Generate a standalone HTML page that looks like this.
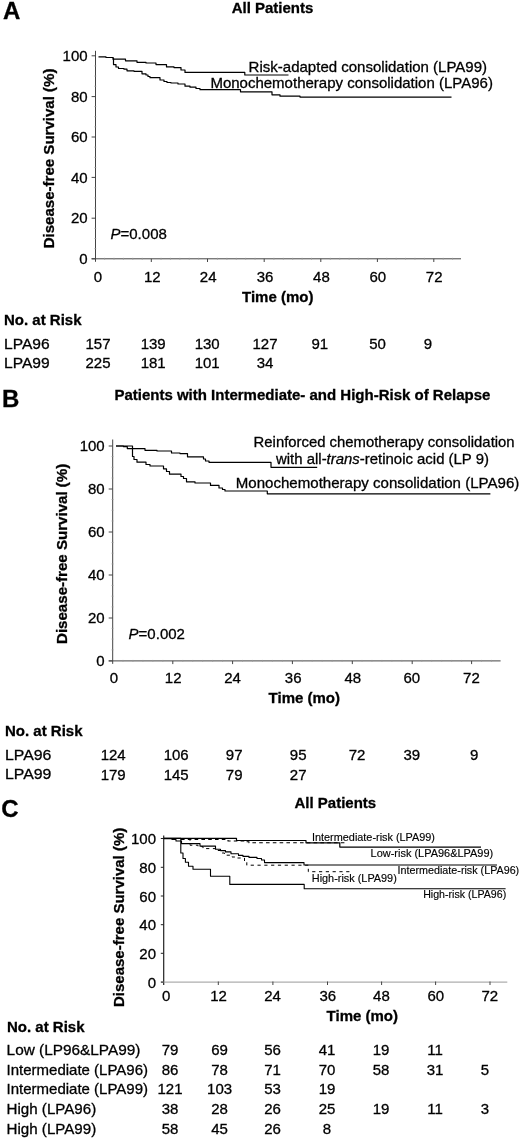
<!DOCTYPE html>
<html lang="en">
<head>
<meta charset="utf-8">
<title>Disease-free survival</title>
<style>
html,body{margin:0;padding:0;background:#fff;}
body{width:520px;height:1139px;overflow:hidden;}
svg{display:block;}
svg text{font-family:"Liberation Sans", sans-serif;fill:#000;stroke:#000;stroke-width:0.3px;}
</style>
</head>
<body>
<svg width="520" height="1139" viewBox="0 0 520 1139">
<rect width="520" height="1139" fill="#fff"/>
<text x="3.0" y="19.2" font-size="24" font-weight="bold">A</text>
<text x="272.5" y="12.5" font-size="15" font-weight="bold" text-anchor="middle">All Patients</text>
<line x1="95.5" y1="50.8" x2="95.5" y2="261.8" stroke="#444" stroke-width="1"/>
<line x1="91.6" y1="258.8" x2="461" y2="258.8" stroke="#444" stroke-width="1"/>
<line x1="91.6" y1="55.8" x2="95.5" y2="55.8" stroke="#444" stroke-width="1"/>
<line x1="91.6" y1="96.6" x2="95.5" y2="96.6" stroke="#444" stroke-width="1"/>
<line x1="91.6" y1="137.0" x2="95.5" y2="137.0" stroke="#444" stroke-width="1"/>
<line x1="91.6" y1="177.4" x2="95.5" y2="177.4" stroke="#444" stroke-width="1"/>
<line x1="91.6" y1="218.2" x2="95.5" y2="218.2" stroke="#444" stroke-width="1"/>
<line x1="91.6" y1="258.8" x2="95.5" y2="258.8" stroke="#444" stroke-width="1"/>
<line x1="151.3" y1="258.8" x2="151.3" y2="262.0" stroke="#444" stroke-width="1"/>
<line x1="207.5" y1="258.8" x2="207.5" y2="262.0" stroke="#444" stroke-width="1"/>
<line x1="264.2" y1="258.8" x2="264.2" y2="262.0" stroke="#444" stroke-width="1"/>
<line x1="320.8" y1="258.8" x2="320.8" y2="262.0" stroke="#444" stroke-width="1"/>
<line x1="377.4" y1="258.8" x2="377.4" y2="262.0" stroke="#444" stroke-width="1"/>
<line x1="433.8" y1="258.8" x2="433.8" y2="262.0" stroke="#444" stroke-width="1"/>
<line x1="94.3" y1="248.65" x2="96.3" y2="248.65" stroke="#999" stroke-width="0.7"/>
<line x1="94.3" y1="238.5" x2="96.3" y2="238.5" stroke="#999" stroke-width="0.7"/>
<line x1="94.3" y1="228.35000000000002" x2="96.3" y2="228.35000000000002" stroke="#999" stroke-width="0.7"/>
<line x1="94.3" y1="208.05" x2="96.3" y2="208.05" stroke="#999" stroke-width="0.7"/>
<line x1="94.3" y1="197.9" x2="96.3" y2="197.9" stroke="#999" stroke-width="0.7"/>
<line x1="94.3" y1="187.75" x2="96.3" y2="187.75" stroke="#999" stroke-width="0.7"/>
<line x1="94.3" y1="167.45" x2="96.3" y2="167.45" stroke="#999" stroke-width="0.7"/>
<line x1="94.3" y1="157.3" x2="96.3" y2="157.3" stroke="#999" stroke-width="0.7"/>
<line x1="94.3" y1="147.15" x2="96.3" y2="147.15" stroke="#999" stroke-width="0.7"/>
<line x1="94.3" y1="126.85" x2="96.3" y2="126.85" stroke="#999" stroke-width="0.7"/>
<line x1="94.3" y1="116.70000000000002" x2="96.3" y2="116.70000000000002" stroke="#999" stroke-width="0.7"/>
<line x1="94.3" y1="106.55000000000001" x2="96.3" y2="106.55000000000001" stroke="#999" stroke-width="0.7"/>
<line x1="94.3" y1="86.25" x2="96.3" y2="86.25" stroke="#999" stroke-width="0.7"/>
<line x1="94.3" y1="76.1" x2="96.3" y2="76.1" stroke="#999" stroke-width="0.7"/>
<line x1="94.3" y1="65.95000000000002" x2="96.3" y2="65.95000000000002" stroke="#999" stroke-width="0.7"/>
<line x1="104.605" y1="257.8" x2="104.605" y2="259.8" stroke="#999" stroke-width="0.7"/>
<line x1="114.01" y1="257.8" x2="114.01" y2="259.8" stroke="#999" stroke-width="0.7"/>
<line x1="123.41499999999999" y1="257.8" x2="123.41499999999999" y2="259.8" stroke="#999" stroke-width="0.7"/>
<line x1="132.82" y1="257.8" x2="132.82" y2="259.8" stroke="#999" stroke-width="0.7"/>
<line x1="142.225" y1="257.8" x2="142.225" y2="259.8" stroke="#999" stroke-width="0.7"/>
<line x1="161.035" y1="257.8" x2="161.035" y2="259.8" stroke="#999" stroke-width="0.7"/>
<line x1="170.44" y1="257.8" x2="170.44" y2="259.8" stroke="#999" stroke-width="0.7"/>
<line x1="179.845" y1="257.8" x2="179.845" y2="259.8" stroke="#999" stroke-width="0.7"/>
<line x1="189.25" y1="257.8" x2="189.25" y2="259.8" stroke="#999" stroke-width="0.7"/>
<line x1="198.655" y1="257.8" x2="198.655" y2="259.8" stroke="#999" stroke-width="0.7"/>
<line x1="217.46499999999997" y1="257.8" x2="217.46499999999997" y2="259.8" stroke="#999" stroke-width="0.7"/>
<line x1="226.87" y1="257.8" x2="226.87" y2="259.8" stroke="#999" stroke-width="0.7"/>
<line x1="236.27499999999998" y1="257.8" x2="236.27499999999998" y2="259.8" stroke="#999" stroke-width="0.7"/>
<line x1="245.68" y1="257.8" x2="245.68" y2="259.8" stroke="#999" stroke-width="0.7"/>
<line x1="255.08499999999998" y1="257.8" x2="255.08499999999998" y2="259.8" stroke="#999" stroke-width="0.7"/>
<line x1="273.895" y1="257.8" x2="273.895" y2="259.8" stroke="#999" stroke-width="0.7"/>
<line x1="283.3" y1="257.8" x2="283.3" y2="259.8" stroke="#999" stroke-width="0.7"/>
<line x1="292.705" y1="257.8" x2="292.705" y2="259.8" stroke="#999" stroke-width="0.7"/>
<line x1="302.11" y1="257.8" x2="302.11" y2="259.8" stroke="#999" stroke-width="0.7"/>
<line x1="311.515" y1="257.8" x2="311.515" y2="259.8" stroke="#999" stroke-width="0.7"/>
<line x1="330.325" y1="257.8" x2="330.325" y2="259.8" stroke="#999" stroke-width="0.7"/>
<line x1="339.72999999999996" y1="257.8" x2="339.72999999999996" y2="259.8" stroke="#999" stroke-width="0.7"/>
<line x1="349.135" y1="257.8" x2="349.135" y2="259.8" stroke="#999" stroke-width="0.7"/>
<line x1="358.53999999999996" y1="257.8" x2="358.53999999999996" y2="259.8" stroke="#999" stroke-width="0.7"/>
<line x1="367.945" y1="257.8" x2="367.945" y2="259.8" stroke="#999" stroke-width="0.7"/>
<line x1="386.755" y1="257.8" x2="386.755" y2="259.8" stroke="#999" stroke-width="0.7"/>
<line x1="396.15999999999997" y1="257.8" x2="396.15999999999997" y2="259.8" stroke="#999" stroke-width="0.7"/>
<line x1="405.56499999999994" y1="257.8" x2="405.56499999999994" y2="259.8" stroke="#999" stroke-width="0.7"/>
<line x1="414.96999999999997" y1="257.8" x2="414.96999999999997" y2="259.8" stroke="#999" stroke-width="0.7"/>
<line x1="424.37499999999994" y1="257.8" x2="424.37499999999994" y2="259.8" stroke="#999" stroke-width="0.7"/>
<line x1="443.18499999999995" y1="257.8" x2="443.18499999999995" y2="259.8" stroke="#999" stroke-width="0.7"/>
<line x1="452.59" y1="257.8" x2="452.59" y2="259.8" stroke="#999" stroke-width="0.7"/>
<text x="87.6" y="60.9" font-size="15" text-anchor="end">100</text>
<text x="87.6" y="101.69999999999999" font-size="15" text-anchor="end">80</text>
<text x="87.6" y="142.1" font-size="15" text-anchor="end">60</text>
<text x="87.6" y="182.5" font-size="15" text-anchor="end">40</text>
<text x="87.6" y="223.29999999999998" font-size="15" text-anchor="end">20</text>
<text x="87.6" y="263.90000000000003" font-size="15" text-anchor="end">0</text>
<text x="97.8" y="281.8" font-size="15" text-anchor="middle">0</text>
<text x="152.3" y="281.8" font-size="15" text-anchor="middle">12</text>
<text x="208.2" y="281.8" font-size="15" text-anchor="middle">24</text>
<text x="265" y="281.8" font-size="15" text-anchor="middle">36</text>
<text x="321.4" y="281.8" font-size="15" text-anchor="middle">48</text>
<text x="377.8" y="281.8" font-size="15" text-anchor="middle">60</text>
<text x="434.2" y="281.8" font-size="15" text-anchor="middle">72</text>
<text x="242" y="302" font-size="15" font-weight="bold">Time (mo)</text>
<text transform="translate(54.3,248.3) rotate(-90)" font-size="15" font-weight="bold" textLength="179.8" lengthAdjust="spacingAndGlyphs">Disease-free Survival (%)</text>
<text x="110.5" y="239" font-size="15"><tspan font-style="italic">P</tspan>=0.008</text>
<path d="M98.5 56.9H106V57.5H113V59.2H125.5V60.8H137V62.3H146V63H156V64.6H166.5V66.9H174V67.6H181V70H185V72.4H244.8V75.0H288.5" fill="none" stroke="#000" stroke-width="1.2" stroke-linejoin="round"/>
<path d="M113 58.2H113.5V64.6H116V67H118.5V68.5H124V69.2H127V70.8H134V71.3H142V73.8H146V75H148V76.5H150V77.7H160V80H164V81.5H167V82.5H171V83H178V84H185V86.2H190V87.2H196V88.5H200V89.7H240.5V91.8H272V94.8H280V96.2H300V97.1H451.5" fill="none" stroke="#000" stroke-width="1.2" stroke-linejoin="round"/>
<text x="248.6" y="72" font-size="15" textLength="238.5" lengthAdjust="spacingAndGlyphs">Risk-adapted consolidation (LPA99)</text>
<text x="210.4" y="87.9" font-size="15" textLength="282.5" lengthAdjust="spacingAndGlyphs">Monochemotherapy consolidation (LPA96)</text>
<text x="4" y="325" font-size="15" font-weight="bold">No. at Risk</text>
<text x="4" y="348.8" font-size="15" textLength="45.6" lengthAdjust="spacingAndGlyphs">LPA96</text>
<text x="4" y="367.6" font-size="15" textLength="45.6" lengthAdjust="spacingAndGlyphs">LPA99</text>
<text x="98" y="348.8" font-size="15" text-anchor="middle">157</text>
<text x="153.2" y="348.8" font-size="15" text-anchor="middle">139</text>
<text x="207.2" y="348.8" font-size="15" text-anchor="middle">130</text>
<text x="265" y="348.8" font-size="15" text-anchor="middle">127</text>
<text x="319.8" y="348.8" font-size="15" text-anchor="middle">91</text>
<text x="377.6" y="348.8" font-size="15" text-anchor="middle">50</text>
<text x="428" y="348.8" font-size="15" text-anchor="middle">9</text>
<text x="98" y="367.6" font-size="15" text-anchor="middle">225</text>
<text x="153.2" y="367.6" font-size="15" text-anchor="middle">181</text>
<text x="207.2" y="367.6" font-size="15" text-anchor="middle">101</text>
<text x="265" y="367.6" font-size="15" text-anchor="middle">34</text>
<text x="2.0" y="406.7" font-size="24" font-weight="bold">B</text>
<text x="114.4" y="400.4" font-size="15" font-weight="bold" textLength="376" lengthAdjust="spacingAndGlyphs">Patients with Intermediate- and High-Risk of Relapse</text>
<line x1="112.7" y1="439.5" x2="112.7" y2="663.9" stroke="#444" stroke-width="1"/>
<line x1="108.7" y1="660.9" x2="500.6" y2="660.9" stroke="#444" stroke-width="1"/>
<line x1="108.7" y1="446.0" x2="112.7" y2="446.0" stroke="#444" stroke-width="1"/>
<line x1="108.7" y1="489.0" x2="112.7" y2="489.0" stroke="#444" stroke-width="1"/>
<line x1="108.7" y1="532.0" x2="112.7" y2="532.0" stroke="#444" stroke-width="1"/>
<line x1="108.7" y1="575.0" x2="112.7" y2="575.0" stroke="#444" stroke-width="1"/>
<line x1="108.7" y1="618.0" x2="112.7" y2="618.0" stroke="#444" stroke-width="1"/>
<line x1="108.7" y1="660.9" x2="112.7" y2="660.9" stroke="#444" stroke-width="1"/>
<line x1="172.8" y1="660.9" x2="172.8" y2="664.1" stroke="#444" stroke-width="1"/>
<line x1="232.6" y1="660.9" x2="232.6" y2="664.1" stroke="#444" stroke-width="1"/>
<line x1="292.4" y1="660.9" x2="292.4" y2="664.1" stroke="#444" stroke-width="1"/>
<line x1="352.3" y1="660.9" x2="352.3" y2="664.1" stroke="#444" stroke-width="1"/>
<line x1="412.2" y1="660.9" x2="412.2" y2="664.1" stroke="#444" stroke-width="1"/>
<line x1="471.6" y1="660.9" x2="471.6" y2="664.1" stroke="#444" stroke-width="1"/>
<line x1="111.5" y1="649.86" x2="113.5" y2="649.86" stroke="#999" stroke-width="0.7"/>
<line x1="111.5" y1="639.12" x2="113.5" y2="639.12" stroke="#999" stroke-width="0.7"/>
<line x1="111.5" y1="628.38" x2="113.5" y2="628.38" stroke="#999" stroke-width="0.7"/>
<line x1="111.5" y1="606.9" x2="113.5" y2="606.9" stroke="#999" stroke-width="0.7"/>
<line x1="111.5" y1="596.1600000000001" x2="113.5" y2="596.1600000000001" stroke="#999" stroke-width="0.7"/>
<line x1="111.5" y1="585.4200000000001" x2="113.5" y2="585.4200000000001" stroke="#999" stroke-width="0.7"/>
<line x1="111.5" y1="563.94" x2="113.5" y2="563.94" stroke="#999" stroke-width="0.7"/>
<line x1="111.5" y1="553.2" x2="113.5" y2="553.2" stroke="#999" stroke-width="0.7"/>
<line x1="111.5" y1="542.46" x2="113.5" y2="542.46" stroke="#999" stroke-width="0.7"/>
<line x1="111.5" y1="520.98" x2="113.5" y2="520.98" stroke="#999" stroke-width="0.7"/>
<line x1="111.5" y1="510.24" x2="113.5" y2="510.24" stroke="#999" stroke-width="0.7"/>
<line x1="111.5" y1="499.5" x2="113.5" y2="499.5" stroke="#999" stroke-width="0.7"/>
<line x1="111.5" y1="478.02" x2="113.5" y2="478.02" stroke="#999" stroke-width="0.7"/>
<line x1="111.5" y1="467.28000000000003" x2="113.5" y2="467.28000000000003" stroke="#999" stroke-width="0.7"/>
<line x1="111.5" y1="456.54" x2="113.5" y2="456.54" stroke="#999" stroke-width="0.7"/>
<line x1="122.96166666666667" y1="659.9" x2="122.96166666666667" y2="661.9" stroke="#999" stroke-width="0.7"/>
<line x1="132.92333333333335" y1="659.9" x2="132.92333333333335" y2="661.9" stroke="#999" stroke-width="0.7"/>
<line x1="142.885" y1="659.9" x2="142.885" y2="661.9" stroke="#999" stroke-width="0.7"/>
<line x1="152.84666666666666" y1="659.9" x2="152.84666666666666" y2="661.9" stroke="#999" stroke-width="0.7"/>
<line x1="162.80833333333334" y1="659.9" x2="162.80833333333334" y2="661.9" stroke="#999" stroke-width="0.7"/>
<line x1="182.73166666666668" y1="659.9" x2="182.73166666666668" y2="661.9" stroke="#999" stroke-width="0.7"/>
<line x1="192.69333333333333" y1="659.9" x2="192.69333333333333" y2="661.9" stroke="#999" stroke-width="0.7"/>
<line x1="202.65500000000003" y1="659.9" x2="202.65500000000003" y2="661.9" stroke="#999" stroke-width="0.7"/>
<line x1="212.61666666666667" y1="659.9" x2="212.61666666666667" y2="661.9" stroke="#999" stroke-width="0.7"/>
<line x1="222.57833333333335" y1="659.9" x2="222.57833333333335" y2="661.9" stroke="#999" stroke-width="0.7"/>
<line x1="242.5016666666667" y1="659.9" x2="242.5016666666667" y2="661.9" stroke="#999" stroke-width="0.7"/>
<line x1="252.46333333333334" y1="659.9" x2="252.46333333333334" y2="661.9" stroke="#999" stroke-width="0.7"/>
<line x1="262.425" y1="659.9" x2="262.425" y2="661.9" stroke="#999" stroke-width="0.7"/>
<line x1="272.38666666666666" y1="659.9" x2="272.38666666666666" y2="661.9" stroke="#999" stroke-width="0.7"/>
<line x1="282.34833333333336" y1="659.9" x2="282.34833333333336" y2="661.9" stroke="#999" stroke-width="0.7"/>
<line x1="302.27166666666665" y1="659.9" x2="302.27166666666665" y2="661.9" stroke="#999" stroke-width="0.7"/>
<line x1="312.23333333333335" y1="659.9" x2="312.23333333333335" y2="661.9" stroke="#999" stroke-width="0.7"/>
<line x1="322.19500000000005" y1="659.9" x2="322.19500000000005" y2="661.9" stroke="#999" stroke-width="0.7"/>
<line x1="332.1566666666667" y1="659.9" x2="332.1566666666667" y2="661.9" stroke="#999" stroke-width="0.7"/>
<line x1="342.11833333333334" y1="659.9" x2="342.11833333333334" y2="661.9" stroke="#999" stroke-width="0.7"/>
<line x1="362.0416666666667" y1="659.9" x2="362.0416666666667" y2="661.9" stroke="#999" stroke-width="0.7"/>
<line x1="372.0033333333334" y1="659.9" x2="372.0033333333334" y2="661.9" stroke="#999" stroke-width="0.7"/>
<line x1="381.96500000000003" y1="659.9" x2="381.96500000000003" y2="661.9" stroke="#999" stroke-width="0.7"/>
<line x1="391.9266666666667" y1="659.9" x2="391.9266666666667" y2="661.9" stroke="#999" stroke-width="0.7"/>
<line x1="401.8883333333334" y1="659.9" x2="401.8883333333334" y2="661.9" stroke="#999" stroke-width="0.7"/>
<line x1="421.8116666666667" y1="659.9" x2="421.8116666666667" y2="661.9" stroke="#999" stroke-width="0.7"/>
<line x1="431.77333333333337" y1="659.9" x2="431.77333333333337" y2="661.9" stroke="#999" stroke-width="0.7"/>
<line x1="441.735" y1="659.9" x2="441.735" y2="661.9" stroke="#999" stroke-width="0.7"/>
<line x1="451.6966666666667" y1="659.9" x2="451.6966666666667" y2="661.9" stroke="#999" stroke-width="0.7"/>
<line x1="461.65833333333336" y1="659.9" x2="461.65833333333336" y2="661.9" stroke="#999" stroke-width="0.7"/>
<line x1="481.5816666666667" y1="659.9" x2="481.5816666666667" y2="661.9" stroke="#999" stroke-width="0.7"/>
<line x1="491.54333333333335" y1="659.9" x2="491.54333333333335" y2="661.9" stroke="#999" stroke-width="0.7"/>
<text x="104.7" y="451.1" font-size="15" text-anchor="end">100</text>
<text x="104.7" y="494.1" font-size="15" text-anchor="end">80</text>
<text x="104.7" y="537.1" font-size="15" text-anchor="end">60</text>
<text x="104.7" y="580.1" font-size="15" text-anchor="end">40</text>
<text x="104.7" y="623.1" font-size="15" text-anchor="end">20</text>
<text x="104.7" y="666.0" font-size="15" text-anchor="end">0</text>
<text x="113.8" y="682.6" font-size="15" text-anchor="middle">0</text>
<text x="173.2" y="682.6" font-size="15" text-anchor="middle">12</text>
<text x="232.6" y="682.6" font-size="15" text-anchor="middle">24</text>
<text x="293.2" y="682.6" font-size="15" text-anchor="middle">36</text>
<text x="352.8" y="682.6" font-size="15" text-anchor="middle">48</text>
<text x="411.8" y="682.6" font-size="15" text-anchor="middle">60</text>
<text x="471.4" y="682.6" font-size="15" text-anchor="middle">72</text>
<text x="268.6" y="702.6" font-size="15" font-weight="bold">Time (mo)</text>
<text transform="translate(67.3,644.0) rotate(-90)" font-size="15" font-weight="bold" textLength="180.3" lengthAdjust="spacingAndGlyphs">Disease-free Survival (%)</text>
<text x="128.6" y="638.6" font-size="15"><tspan font-style="italic">P</tspan>=0.002</text>
<path d="M116 446H123.4V446.6H127.3V448.6H145V450.3H157V451H171.5V453H180V453.6H187.5V456.8H203.5V459H205.5V461H209V462.3H271V467.3H317.2" fill="none" stroke="#000" stroke-width="1.2" stroke-linejoin="round"/>
<path d="M116 446H132.5V456.5H134V459.5H137V462.2H146V464.5H150V466H163.5V468.8H166.5V471.5H169.5V474.2H181V476.5H183.5V478.5H186.5V481.8H195V483H210.5V485.4H219V488H222.5V489.5H225V491H267.3V493.8H490.4" fill="none" stroke="#000" stroke-width="1.2" stroke-linejoin="round"/>
<text x="253.6" y="446.5" font-size="15" textLength="261" lengthAdjust="spacingAndGlyphs">Reinforced chemotherapy consolidation</text>
<text x="276" y="463.5" font-size="15" textLength="213" lengthAdjust="spacingAndGlyphs">with all-<tspan font-style="italic">trans</tspan>-retinoic acid (LP 9)</text>
<text x="235.8" y="488.0" font-size="15" textLength="283.5" lengthAdjust="spacingAndGlyphs">Monochemotherapy consolidation (LPA96)</text>
<text x="5" y="735.6" font-size="15" font-weight="bold">No. at Risk</text>
<text x="5" y="760" font-size="15" textLength="46.4" lengthAdjust="spacingAndGlyphs">LPA96</text>
<text x="5" y="779.2" font-size="15" textLength="46.4" lengthAdjust="spacingAndGlyphs">LPA99</text>
<text x="113.2" y="760" font-size="15" text-anchor="middle">124</text>
<text x="176.2" y="760" font-size="15" text-anchor="middle">106</text>
<text x="234.2" y="760" font-size="15" text-anchor="middle">97</text>
<text x="298.2" y="760" font-size="15" text-anchor="middle">95</text>
<text x="357" y="760" font-size="15" text-anchor="middle">72</text>
<text x="411.8" y="760" font-size="15" text-anchor="middle">39</text>
<text x="474.2" y="760" font-size="15" text-anchor="middle">9</text>
<text x="113.2" y="779.6" font-size="15" text-anchor="middle">179</text>
<text x="176.2" y="779.6" font-size="15" text-anchor="middle">145</text>
<text x="234.2" y="779.6" font-size="15" text-anchor="middle">79</text>
<text x="298.2" y="779.6" font-size="15" text-anchor="middle">27</text>
<text x="1.2" y="816.9" font-size="24" font-weight="bold">C</text>
<text x="335.3" y="808.0" font-size="15" font-weight="bold" text-anchor="middle">All Patients</text>
<line x1="163.7" y1="835.4" x2="163.7" y2="985" stroke="#222" stroke-width="1.2"/>
<line x1="161" y1="982.1" x2="507.3" y2="982.1" stroke="#999" stroke-width="1"/>
<line x1="160.8" y1="838.5" x2="163.6" y2="838.5" stroke="#222" stroke-width="1"/>
<line x1="160.8" y1="867.3" x2="163.6" y2="867.3" stroke="#222" stroke-width="1"/>
<line x1="160.8" y1="896.0" x2="163.6" y2="896.0" stroke="#222" stroke-width="1"/>
<line x1="160.8" y1="924.7" x2="163.6" y2="924.7" stroke="#222" stroke-width="1"/>
<line x1="160.8" y1="953.3" x2="163.6" y2="953.3" stroke="#222" stroke-width="1"/>
<line x1="160.8" y1="982.1" x2="163.6" y2="982.1" stroke="#222" stroke-width="1"/>
<line x1="218.3" y1="981.5" x2="218.3" y2="985" stroke="#444" stroke-width="1"/>
<line x1="272.9" y1="981.5" x2="272.9" y2="985" stroke="#444" stroke-width="1"/>
<line x1="327.5" y1="981.5" x2="327.5" y2="985" stroke="#444" stroke-width="1"/>
<line x1="381.6" y1="981.5" x2="381.6" y2="985" stroke="#444" stroke-width="1"/>
<line x1="435.6" y1="981.5" x2="435.6" y2="985" stroke="#444" stroke-width="1"/>
<line x1="490" y1="981.5" x2="490" y2="985" stroke="#444" stroke-width="1"/>
<text x="156.0" y="844.2" font-size="15" text-anchor="end">100</text>
<text x="156.0" y="873.0" font-size="15" text-anchor="end">80</text>
<text x="156.0" y="901.7" font-size="15" text-anchor="end">60</text>
<text x="156.0" y="930.4000000000001" font-size="15" text-anchor="end">40</text>
<text x="156.0" y="959.0" font-size="15" text-anchor="end">20</text>
<text x="156.0" y="987.8000000000001" font-size="15" text-anchor="end">0</text>
<text x="166.2" y="1001.2" font-size="15" text-anchor="middle">0</text>
<text x="218.6" y="1001.2" font-size="15" text-anchor="middle">12</text>
<text x="272.5" y="1001.2" font-size="15" text-anchor="middle">24</text>
<text x="327.8" y="1001.2" font-size="15" text-anchor="middle">36</text>
<text x="381.4" y="1001.2" font-size="15" text-anchor="middle">48</text>
<text x="435.8" y="1001.2" font-size="15" text-anchor="middle">60</text>
<text x="489.8" y="1001.2" font-size="15" text-anchor="middle">72</text>
<text x="326.6" y="1021" font-size="15" font-weight="bold">Time (mo)</text>
<text transform="translate(123.8,1007) rotate(-90)" font-size="15" font-weight="bold">Disease-free Survival (%)</text>
<path d="M163.8 838.3H236.5V840.5H306V842.8H339.8V847.1H481" fill="none" stroke="#000" stroke-width="1.2" stroke-linejoin="round"/>
<path d="M181 839.4H228V841H244V841.8H249V842.8H346" fill="none" stroke="#000" stroke-width="1.1" stroke-dasharray="3.6 3.2" stroke-linejoin="round"/>
<path d="M163.8 838.6H172V839.5H176V841H181.5V843.6H200V846.1H215.5V849.2H220.5V850.6H225.5V851.9H231V853.8H238.5V855.4H243V856.4H249V857.4H257V858.5H261.5V860H264.5V862.6H304V865H497" fill="none" stroke="#000" stroke-width="1.1" stroke-linejoin="round"/>
<path d="M188 839.5H190V845.2H198V846.6H203V848.6H216V850.5H221V853H224.5V855.2H232V857H236V858H244.5V861.5H246.8V865.2H308.3V871.7H351.5" fill="none" stroke="#000" stroke-width="1.0" stroke-dasharray="3.2 3.6" stroke-linejoin="round"/>
<path d="M163.8 838.3H180.8V853H183V858.5H185.4V862.3H188.5V866.2H193V869.2H210.5V876.2H229.8V884.4H304.2V888.7H505.6" fill="none" stroke="#000" stroke-width="1.1" stroke-linejoin="round"/>
<text x="312" y="840.5" font-size="11.4" textLength="123" lengthAdjust="spacingAndGlyphs" style="stroke-width:0.15px">Intermediate-risk (LPA99)</text>
<text x="370.6" y="857.2" font-size="11.4" textLength="122.6" lengthAdjust="spacingAndGlyphs" style="stroke-width:0.15px">Low-risk (LPA96&amp;LPA99)</text>
<text x="397.6" y="874.3" font-size="11.4" textLength="121.6" lengthAdjust="spacingAndGlyphs" style="stroke-width:0.15px">Intermediate-risk (LPA96)</text>
<text x="311.8" y="882.3" font-size="11.4" textLength="85" lengthAdjust="spacingAndGlyphs" style="stroke-width:0.15px">High-risk (LPA99)</text>
<text x="423.2" y="897.6" font-size="11.4" textLength="83" lengthAdjust="spacingAndGlyphs" style="stroke-width:0.15px">High-risk (LPA96)</text>
<text x="7" y="1031.8" font-size="15" font-weight="bold">No. at Risk</text>
<text x="6.6" y="1055.2" font-size="15" textLength="133.8" lengthAdjust="spacingAndGlyphs">Low (LP96&amp;LPA99)</text>
<text x="170" y="1055.2" font-size="15" text-anchor="middle">79</text>
<text x="219.6" y="1055.2" font-size="15" text-anchor="middle">69</text>
<text x="272.6" y="1055.2" font-size="15" text-anchor="middle">56</text>
<text x="327" y="1055.2" font-size="15" text-anchor="middle">41</text>
<text x="381" y="1055.2" font-size="15" text-anchor="middle">19</text>
<text x="435" y="1055.2" font-size="15" text-anchor="middle">11</text>
<text x="6.6" y="1075.0" font-size="15" textLength="141.4" lengthAdjust="spacingAndGlyphs">Intermediate (LPA96)</text>
<text x="170" y="1075.0" font-size="15" text-anchor="middle">86</text>
<text x="219.6" y="1075.0" font-size="15" text-anchor="middle">78</text>
<text x="272.6" y="1075.0" font-size="15" text-anchor="middle">71</text>
<text x="327" y="1075.0" font-size="15" text-anchor="middle">70</text>
<text x="381" y="1075.0" font-size="15" text-anchor="middle">58</text>
<text x="435" y="1075.0" font-size="15" text-anchor="middle">31</text>
<text x="485" y="1075.0" font-size="15" text-anchor="middle">5</text>
<text x="6.6" y="1094.4" font-size="15" textLength="141.4" lengthAdjust="spacingAndGlyphs">Intermediate (LPA99)</text>
<text x="170" y="1094.4" font-size="15" text-anchor="middle">121</text>
<text x="219.6" y="1094.4" font-size="15" text-anchor="middle">103</text>
<text x="272.6" y="1094.4" font-size="15" text-anchor="middle">53</text>
<text x="327" y="1094.4" font-size="15" text-anchor="middle">19</text>
<text x="6.6" y="1114.2" font-size="15" textLength="89.6" lengthAdjust="spacingAndGlyphs">High (LPA96)</text>
<text x="170" y="1114.2" font-size="15" text-anchor="middle">38</text>
<text x="219.6" y="1114.2" font-size="15" text-anchor="middle">28</text>
<text x="272.6" y="1114.2" font-size="15" text-anchor="middle">26</text>
<text x="327" y="1114.2" font-size="15" text-anchor="middle">25</text>
<text x="381" y="1114.2" font-size="15" text-anchor="middle">19</text>
<text x="435" y="1114.2" font-size="15" text-anchor="middle">11</text>
<text x="485" y="1114.2" font-size="15" text-anchor="middle">3</text>
<text x="6.6" y="1133.7" font-size="15" textLength="89.6" lengthAdjust="spacingAndGlyphs">High (LPA99)</text>
<text x="170" y="1133.7" font-size="15" text-anchor="middle">58</text>
<text x="219.6" y="1133.7" font-size="15" text-anchor="middle">45</text>
<text x="272.6" y="1133.7" font-size="15" text-anchor="middle">26</text>
<text x="327" y="1133.7" font-size="15" text-anchor="middle">8</text>
</svg>
</body>
</html>
